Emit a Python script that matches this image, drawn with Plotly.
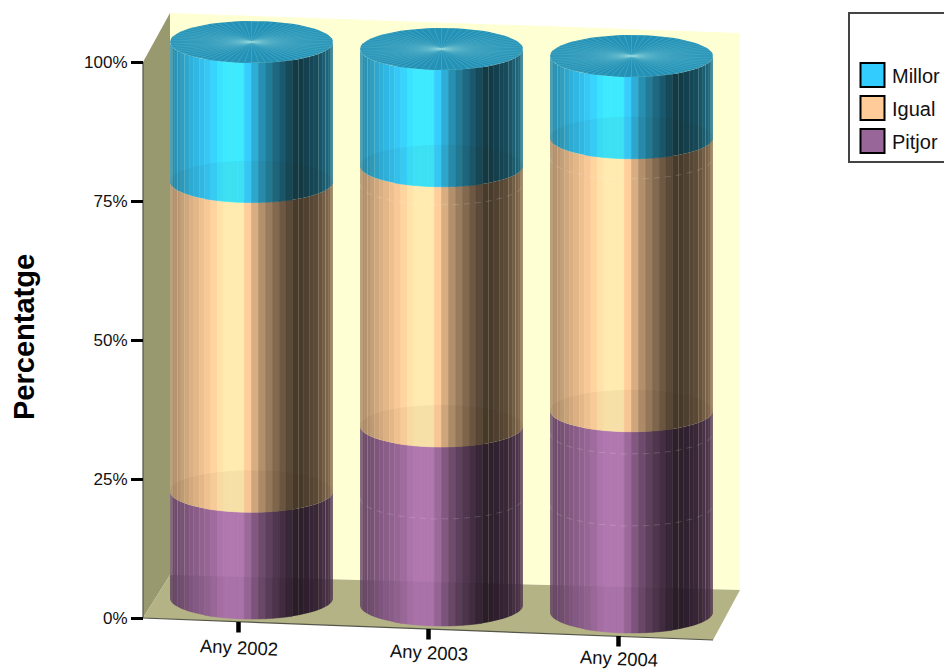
import numpy as np
import plotly.graph_objects as go

years = ["Any 2002", "Any 2003", "Any 2004"]
pitjor = [19.2, 32.2, 36.2]
igual = [55.7, 46.8, 49.1]
millor = [25.1, 21.0, 14.7]
series_names = ["Pitjor", "Igual", "Millor"]
series_values = [pitjor, igual, millor]
series_colors = [(153, 102, 153), (255, 204, 153), (51, 204, 255)]
y_ticks = [0, 25, 50, 75, 100]
y_ticklabels = ["0%", "25%", "50%", "75%", "100%"]

W, H = 944, 671
PX_PER_PCT = 5.56
Y0_PX = 618
SIDE_ALPHA = 0.98
N = 72


def py(p):
    return (Y0_PX - p) / PX_PER_PCT


BAR_X = [251.5 + 190 * i for i in range(3)]
BAR_BASE = [598, 605, 612]
RX = 81.5
RY = 21
U_KEY = [0, .06, .12, .25, .33, .45, .49, .57, .66, .78, .90, 1]
F_KEY = [.66, .74, .84, 1.0, 1.15, 1.15, .95, .68, .48, .25, .36, .55]
# faint seams of the original rendering: bar index, centre height in pixels
RINGS = [(1, 498), (1, 184), (2, 433), (2, 505), (2, 158)]


def shade(c, f):
    return tuple(int(min(255, v * f)) for v in c)


def rgba(c, a=1.0):
    return f"rgba({c[0]},{c[1]},{c[2]},{a})"


fig = go.Figure()


def poly(xs, ys, color, lw=0):
    fig.add_trace(go.Scatter(x=xs, y=ys, mode="lines", fill="toself", fillcolor=color,
                             line=dict(width=lw, color=color), hoverinfo="skip", showlegend=False))


def frame_poly(pts, color):
    poly([p[0] for p in pts], [py(p[1]) for p in pts], color)


# walls and floor
frame_poly([(170, 13), (740, 33), (740, 590), (170, 575)], "#FFFFD4")
frame_poly([(143, 62), (170, 13), (170, 575), (143, 618)], "#99996F")
frame_poly([(143, 618), (170, 575), (740, 590), (713, 640)], "#B3B385")
fig.add_trace(go.Scatter(x=[143, 143, 713], y=[py(62), py(618), py(640)], mode="lines",
                         line=dict(color="#55554a", width=1.2), hoverinfo="skip", showlegend=False))

theta = np.linspace(np.pi, 3 * np.pi, N + 1)
for b in range(3):
    cx, base = BAR_X[b], BAR_BASE[b]
    rx_t = RX * np.cos(theta)
    ry_t = RY * np.sin(theta)
    level = 0.0
    tops = []
    for s in range(3):
        c = series_colors[s]
        lo = level
        hi = level + series_values[s][b]
        level = hi
        ylo = py(base - lo * PX_PER_PCT)
        yhi = py(base - hi * PX_PER_PCT)
        tops.append(yhi)
        for k in range(N // 2):
            x0, x1 = cx + rx_t[k], cx + rx_t[k + 1]
            d0, d1 = ry_t[k] / PX_PER_PCT, ry_t[k + 1] / PX_PER_PCT
            u = ((x0 + x1) / 2 - (cx - RX)) / (2 * RX)
            col = shade(c, float(np.interp(u, U_KEY, F_KEY)))
            poly([x0, x1, x1, x0, x0],
                 [ylo + d0, ylo + d1, yhi + d1, yhi + d0, ylo + d0],
                 rgba(col, SIDE_ALPHA), lw=0.6 if 0.2 < u < 0.76 else 0)
    # the floor edge shows faintly through the lowest segment
    ex = np.concatenate([cx + rx_t[:N // 2 + 1], [cx + RX, cx - RX]])
    ey = np.concatenate([py(base) + ry_t[:N // 2 + 1] / PX_PER_PCT,
                         [py(575 + (cx + RX - 170) * 15 / 570), py(575 + (cx - RX - 170) * 15 / 570)]])
    poly(list(ex), list(ey), "rgba(0,0,0,0.035)")
    # inner caps show through the segment above them
    for s in range(2):
        poly(list(cx + rx_t), list(tops[s] + ry_t / PX_PER_PCT), "rgba(40,20,0,0.045)")
    # top cap with radial seams
    xs = cx + rx_t
    ys = tops[2] + ry_t / PX_PER_PCT
    poly(list(xs), list(ys), rgba(shade(series_colors[2], 0.72)))
    sx, sy = [], []
    for k in range(N):
        sx += [cx, xs[k], None]
        sy += [tops[2], ys[k], None]
    fig.add_trace(go.Scatter(x=sx, y=sy, mode="lines",
                             line=dict(color="rgba(150,215,220,0.4)", width=0.6),
                             hoverinfo="skip", showlegend=False))

for b, yc in RINGS:
    t = theta[:N // 2 + 1]
    fig.add_trace(go.Scatter(x=BAR_X[b] + RX * np.cos(t), y=py(yc) + RY * np.sin(t) / PX_PER_PCT,
                             mode="lines", line=dict(color="rgba(255,255,255,0.22)", width=0.7, dash="6px,5px"),
                             hoverinfo="skip", showlegend=False))

# x tick marks and labels
for i, name in enumerate(years):
    tx = 238.5 + 190 * i
    ty = 622 + 7 * i
    fig.add_trace(go.Scatter(x=[tx, tx], y=[py(ty), py(ty + 10.5)], mode="lines",
                             line=dict(color="black", width=4.5), hoverinfo="skip", showlegend=False))
    fig.add_annotation(x=tx, y=py(647 + 5.5 * i), text=name, showarrow=False, textangle=2.5,
                       font=dict(family="Liberation Sans", size=18.5, color="#111"),
                       xanchor="center", yanchor="middle")

# y title
fig.add_annotation(x=24, y=py(337), text="<b>Percentatge</b>", showarrow=False, textangle=-90,
                   font=dict(family="Liberation Sans", size=29, color="black"),
                   xanchor="center", yanchor="middle")

# legend
shapes = [dict(type="rect", xref="x", yref="y", x0=849, x1=W + 5, y0=py(13), y1=py(162),
               line=dict(color="#444", width=2), fillcolor="white", layer="above")]
for j, s in enumerate([2, 1, 0]):
    yc = 75 + 33 * j
    shapes.append(dict(type="rect", xref="x", yref="y", x0=860.5, x1=884.5, y0=py(yc - 12), y1=py(yc + 12),
                       line=dict(color="black", width=2), fillcolor=rgba(series_colors[s]), layer="above"))
    fig.add_annotation(x=890, y=py(yc + 1), text=series_names[s], showarrow=False,
                       font=dict(family="Liberation Sans", size=20, color="#111"),
                       xanchor="left", yanchor="middle")

fig.update_layout(
    width=W, height=H, margin=dict(l=0, r=0, t=0, b=0),
    paper_bgcolor="white", plot_bgcolor="white", showlegend=False, shapes=shapes,
    xaxis=dict(range=[0, W], visible=False, fixedrange=True),
    yaxis=dict(range=[py(H), py(0)], anchor="free", position=143 / W, showgrid=False, zeroline=False,
               showline=False, tickmode="array", tickvals=y_ticks, ticktext=y_ticklabels,
               ticks="outside", ticklen=12, tickwidth=3, tickcolor="black",
               tickfont=dict(family="Liberation Sans", size=17, color="#111"), fixedrange=True),
)
fig.write_html("out.html", config={"displayModeBar": False},
               post_script="document.body.style.margin='0';")
